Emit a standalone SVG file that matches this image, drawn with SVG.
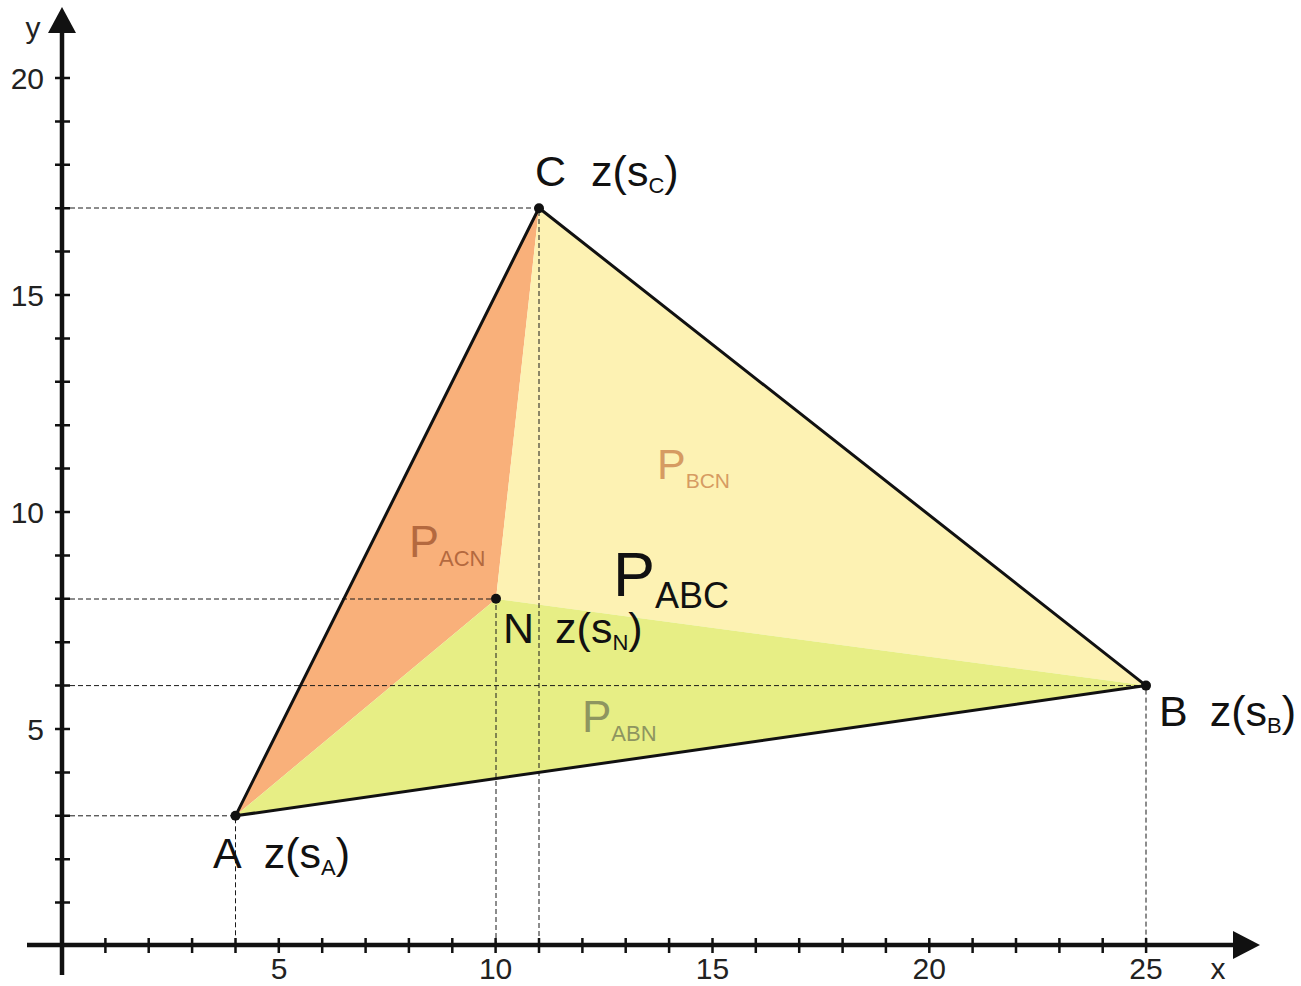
<svg xmlns="http://www.w3.org/2000/svg" width="1301" height="986" viewBox="0 0 1301 986">
<style>
.ax{stroke:#111;stroke-width:4.5;fill:none}
.tk{stroke:#111;stroke-width:2.5}
.dash{stroke:#1a1a1a;stroke-width:1;stroke-dasharray:5 3;fill:none}
.num{font-family:"Liberation Sans",Arial,sans-serif;font-size:30px;fill:#222}
.lbl{font-family:"Liberation Sans",Arial,sans-serif;font-size:43px;fill:#111}
.sub{font-size:22px}
.pt{fill:#111}
</style>
<rect width="1301" height="986" fill="#fff"/>
<g id="regions">
<polygon id="ACN" points="235.5,815.8 539,208 496,599" fill="#F9B07A"/>
<polygon id="BCN" points="1146,685.6 539,208 496,599" fill="#FDF2B3"/>
<polygon id="ABN" points="235.5,815.8 1146,685.6 496,599" fill="#E7EE85"/>
</g>
<g id="connectors">
<path class="dash" d="M62,208H539V945 M62,599H496V945 M62,685.6H1146V945 M62,815.8H235.5V945"/>
<polygon id="triangle" points="235.5,815.8 1146,685.6 539,208" fill="none" stroke="#111" stroke-width="3" stroke-linejoin="round"/>
</g>
<g id="axes">
<line class="ax" x1="62" y1="975" x2="62" y2="30"/>
<polygon points="62,7 48,33 76,33" fill="#111"/>
<line class="ax" x1="27" y1="945" x2="1236" y2="945"/>
<polygon points="1260,945 1233,931 1233,959" fill="#111"/>
<path class="tk" d="M105.4,938v15M148.7,938v15M192.1,938v15M235.5,938v15M278.8,938v15M322.2,938v15M365.6,938v15M408.9,938v15M452.3,938v15M495.6,938v15M539,938v15M582.4,938v15M625.7,938v15M669.1,938v15M712.5,938v15M755.8,938v15M799.2,938v15M842.6,938v15M885.9,938v15M929.3,938v15M972.6,938v15M1016,938v15M1059.4,938v15M1102.7,938v15M1146.1,938v15"/>
<path class="tk" d="M55,902.6h15M55,859.2h15M55,815.8h15M55,772.4h15M55,729h15M55,685.6h15M55,642.2h15M55,598.8h15M55,555.4h15M55,512h15M55,468.6h15M55,425.2h15M55,381.8h15M55,338.4h15M55,295h15M55,251.6h15M55,208.2h15M55,164.8h15M55,121.4h15M55,78h15"/>
<text class="num" x="33" y="38" text-anchor="middle">y</text>
<text class="num" x="1218" y="979" text-anchor="middle">x</text>
<g text-anchor="end">
<text class="num" x="44" y="89">20</text>
<text class="num" x="44" y="306">15</text>
<text class="num" x="44" y="523">10</text>
<text class="num" x="44" y="740">5</text>
</g>
<g text-anchor="middle">
<text class="num" x="279" y="979">5</text>
<text class="num" x="495.6" y="979">10</text>
<text class="num" x="712.5" y="979">15</text>
<text class="num" x="929.3" y="979">20</text>
<text class="num" x="1146" y="979">25</text>
</g>
</g>
<g id="nodeA">
<circle class="pt" cx="235.5" cy="815.8" r="5"/>
<text class="lbl" x="213" y="868">A<tspan dx="22">z(s</tspan><tspan class="sub" dy="7">A</tspan><tspan dy="-7">)</tspan></text>
</g>
<g id="nodeB">
<circle class="pt" cx="1146" cy="685.6" r="5"/>
<text class="lbl" x="1159" y="726">B<tspan dx="22">z(s</tspan><tspan class="sub" dy="7">B</tspan><tspan dy="-7">)</tspan></text>
</g>
<g id="nodeC">
<circle class="pt" cx="539" cy="208.2" r="5"/>
<text class="lbl" x="535" y="186">C<tspan dx="25">z(s</tspan><tspan class="sub" dy="7">C</tspan><tspan dy="-7">)</tspan></text>
</g>
<g id="nodeN">
<circle class="pt" cx="496" cy="598.8" r="5"/>
<text class="lbl" x="503" y="643">N<tspan dx="21">z(s</tspan><tspan class="sub" dy="7">N</tspan><tspan dy="-7">)</tspan></text>
</g>
<g id="labels" font-family="Liberation Sans,Arial,sans-serif">
<text x="409" y="557" font-size="45" fill="#B4693F">P<tspan font-size="22" dy="9">ACN</tspan></text>
<text x="657" y="479" font-size="43" fill="#D69B62">P<tspan font-size="21" dy="9">BCN</tspan></text>
<text x="582" y="732" font-size="44" fill="#8E9560">P<tspan font-size="22" dy="9">ABN</tspan></text>
<text x="613" y="596" font-size="63" fill="#111">P<tspan font-size="36" dy="12">ABC</tspan></text>
</g>
</svg>
